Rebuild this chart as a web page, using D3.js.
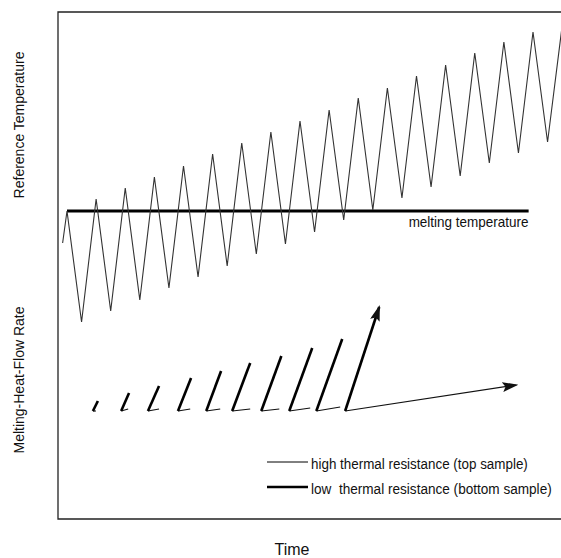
<!DOCTYPE html>
<html>
<head>
<meta charset="UTF-8">
<title>Reference temperature and melting heat flow</title>
<script src="https://cdn.jsdelivr.net/npm/d3@7"></script>
<style>
  body { margin: 0; background: #fff; }
  text { fill: #111; }
</style>
</head>
<body>
<div id="container"></div>
<script>
// reference temperature zigzag (time in modulation periods, temp relative to melting point)
const zigTime = [-0.15, 0, 0.5, 1, 1.5, 2, 2.5, 3, 3.5, 4, 4.5, 5, 5.5, 6, 6.5, 7, 7.5, 8, 8.5,
  9, 9.5, 10, 10.5, 11, 11.5, 12, 12.5, 13, 13.5, 14, 14.5, 15, 15.5, 16, 16.5, 17];
const zigTemp = [-3.2, 0, -11.1, 1.2, -10.0, 2.3, -8.9, 3.4, -7.7, 4.5, -6.6, 5.7, -5.5, 6.8, -4.3,
  7.9, -3.3, 9.0, -2.1, 10.1, -0.9, 11.3, 0.1, 12.3, 1.3, 13.5, 2.4, 14.6, 3.5, 15.8, 4.8, 16.9,
  5.8, 17.9, 6.9, 18.5];

// melting temperature line
const meltTime = [0, 15.85];
const meltTemp = 0;

// melting heat-flow rate vectors, one per cycle
const baseTime = [0.89, 1.86, 2.78, 3.81, 4.78, 5.67, 6.67, 7.63, 8.56, 9.55];
const lowEndTime = [1.06, 2.13, 3.16, 4.26, 5.29, 6.29, 7.36, 8.42, 9.45, 10.72];
const lowEndRate = [1.0, 1.8, 2.5, 3.3, 4.0, 4.8, 5.5, 6.3, 7.2, 10.4];
const highEndTime = [0.99, 2.10, 3.16, 4.23, 5.26, 6.29, 7.29, 8.35, 9.38, 15.43];
const highEndRate = [0.0, 0.2, 0.2, 0.2, 0.2, 0.2, 0.2, 0.3, 0.4, 2.6];

const legendLabels = ["high thermal resistance (top sample)", "low  thermal resistance (bottom sample)"];
const legendWidths = [217, 241];

const width = 561, height = 558;
const frameTop = 12, frameBottom = 519, frameLeft = 58;

const x = d3.scaleLinear().domain([0, 16]).range([67, 533]);
const yTemp = d3.scaleLinear().domain([0, 10]).range([211, 111]);
const yRate = d3.scaleLinear().domain([0, 10]).range([411, 311]);

const svg = d3.select("#container").append("svg")
  .attr("width", width)
  .attr("height", height)
  .attr("viewBox", [0, 0, width, height])
  .style("font-family", "'Liberation Sans', Arial, sans-serif");

// squeeze a text horizontally to look like the condensed face of the original
function condensed(sel, x0, y0, targetWidth) {
  const w = sel.node().getComputedTextLength();
  sel.attr("transform", `translate(${x0},${y0}) scale(${targetWidth / w},1)`);
}

const defs = svg.append("defs");
defs.append("marker")
  .attr("id", "head")
  .attr("markerUnits", "userSpaceOnUse")
  .attr("viewBox", "0 0 16 10")
  .attr("refX", 14).attr("refY", 5)
  .attr("markerWidth", 16).attr("markerHeight", 10)
  .attr("orient", "auto")
  .append("path")
  .attr("d", "M0,0 L16,5 L0,10 L3,5 Z")
  .attr("fill", "#111");

// frame (open on the right)
svg.append("path")
  .attr("d", `M${width},${frameTop} H${frameLeft} V${frameBottom} H${width}`)
  .attr("fill", "none")
  .attr("stroke", "#222")
  .attr("stroke-width", 1.3);

// melting temperature
svg.append("line")
  .attr("x1", x(meltTime[0])).attr("x2", x(meltTime[1]))
  .attr("y1", yTemp(meltTemp)).attr("y2", yTemp(meltTemp))
  .attr("stroke", "#000")
  .attr("stroke-width", 3);

svg.append("text")
  .style("font-size", "14px")
  .text("melting temperature")
  .call(condensed, x(meltTime[1]) - 120, yTemp(meltTemp) + 16, 120);

// reference temperature
svg.append("path")
  .datum(zigTime.map((t, i) => [t, zigTemp[i]]))
  .attr("fill", "none")
  .attr("stroke", "#333")
  .attr("stroke-width", 1.1)
  .attr("stroke-linejoin", "miter")
  .attr("d", d3.line().x(d => x(d[0])).y(d => yTemp(d[1])));

// heat-flow vectors: thin = high thermal resistance, bold = low thermal resistance
const last = baseTime.length - 1;
svg.append("g").selectAll("line")
  .data(baseTime)
  .join("line")
  .attr("x1", d => x(d)).attr("y1", yRate(0))
  .attr("x2", (d, i) => x(highEndTime[i])).attr("y2", (d, i) => yRate(highEndRate[i]))
  .attr("stroke", "#111")
  .attr("stroke-width", 1.2)
  .attr("marker-end", (d, i) => i === last ? "url(#head)" : null);

svg.append("g").selectAll("line")
  .data(baseTime)
  .join("line")
  .attr("x1", d => x(d)).attr("y1", yRate(0))
  .attr("x2", (d, i) => x(lowEndTime[i])).attr("y2", (d, i) => yRate(lowEndRate[i]))
  .attr("stroke", "#000")
  .attr("stroke-width", 2.6)
  .attr("marker-end", (d, i) => i === last ? "url(#head)" : null);

// legend
const legend = svg.append("g")
  .style("font-size", "15px");
legendLabels.forEach((label, i) => {
  const ly = 462 + i * 25;
  legend.append("line")
    .attr("x1", 267).attr("x2", 308)
    .attr("y1", ly).attr("y2", ly)
    .attr("stroke", "#000")
    .attr("stroke-width", i === 0 ? 1 : 2.6);
  legend.append("text")
    .attr("xml:space", "preserve")
    .style("white-space", "pre")
    .text(label)
    .call(condensed, 311, ly + 7, legendWidths[i]);
});

// axis titles
svg.append("text")
  .attr("transform", "translate(24,125) rotate(-90)")
  .attr("text-anchor", "middle")
  .style("font-size", "14px")
  .text("Reference Temperature");

svg.append("text")
  .attr("transform", "translate(24,380) rotate(-90)")
  .attr("text-anchor", "middle")
  .style("font-size", "14px")
  .text("Melting-Heat-Flow Rate");

svg.append("text")
  .attr("x", 292)
  .attr("y", 555)
  .attr("text-anchor", "middle")
  .style("font-size", "16px")
  .text("Time");
</script>
</body>
</html>
